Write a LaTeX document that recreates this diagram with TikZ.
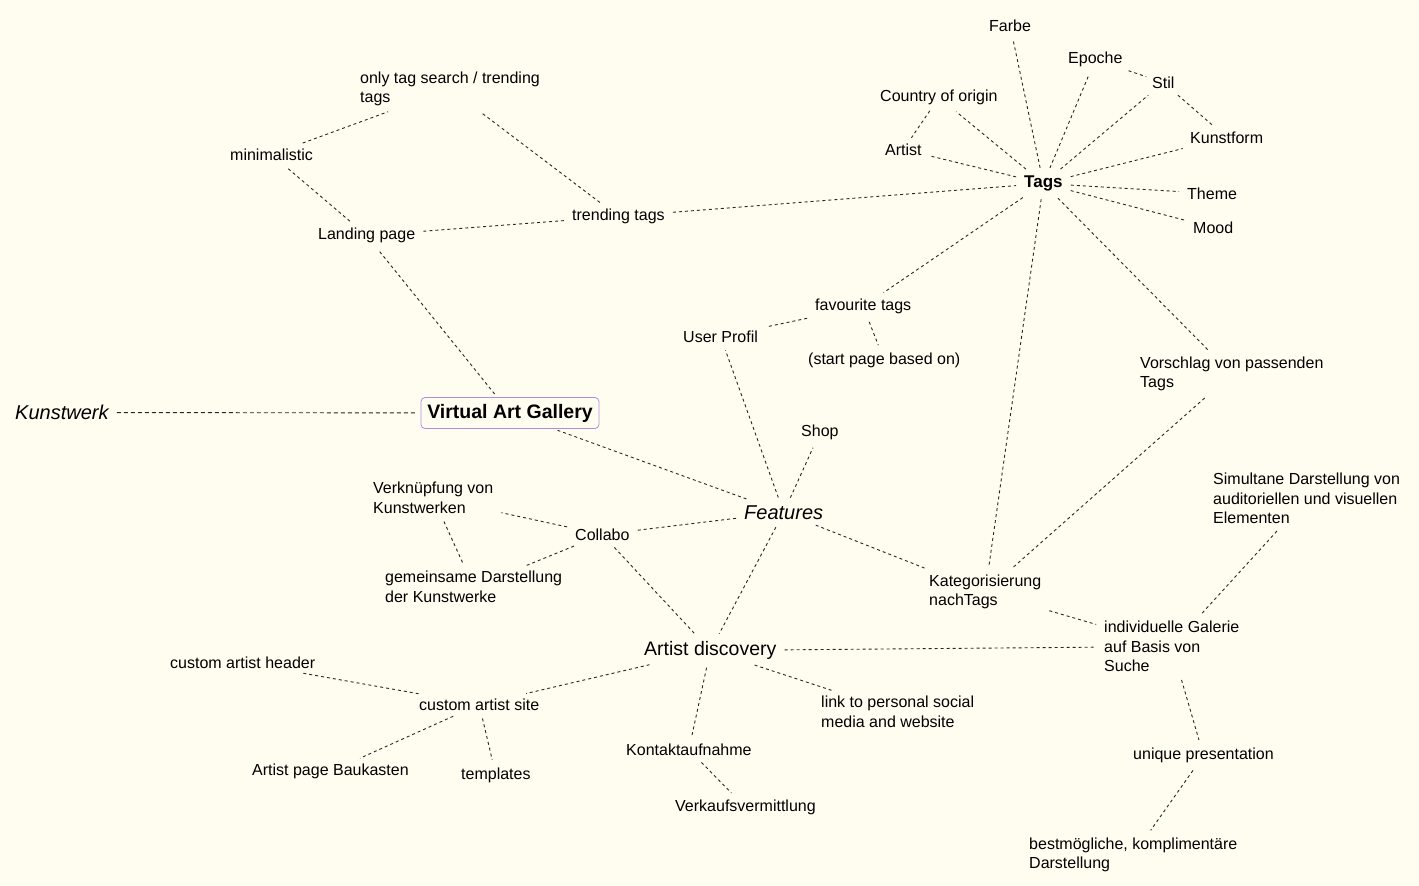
\documentclass[tikz,border=0pt]{standalone}
\usepackage{fontspec}
\setmainfont{Liberation Sans}
\definecolor{paper}{RGB}{255,253,240}
\definecolor{frame}{RGB}{176,140,224}
\begin{document}
\begin{tikzpicture}[x=1pt,y=-1pt,
  item/.style={anchor=west, inner sep=4pt, yshift=-1.5pt, align=left, font=\fontsize{16}{19.5}\selectfont},
  con/.style={draw=black!85, line width=0.9pt, dash pattern=on 3pt off 3pt, shorten <=4pt, shorten >=4pt}]

\fill[paper] (0,0) rectangle (1419,886);

% centre
\node[draw=frame, rounded corners=4pt, line width=0.8pt, minimum width=178pt, minimum height=31pt, inner sep=3pt, yshift=-1pt, font=\fontsize{19.5}{23}\selectfont\bfseries] (vag) at (510,412) {Virtual Art Gallery};
\node[item, font=\fontsize{20}{24}\selectfont\itshape] (kunstwerk) at (11,411) {Kunstwerk};

% landing page
\node[item] (landing) at (314,234) {Landing page};
\node[item] (minimal) at (226,153) {minimalistic};
\node[item] (onlytag) at (356,87.5) {only tag search / trending\\tags};
\node[item] (trending) at (568,215) {trending tags};

% tags
\node[item, font=\fontsize{17}{20}\selectfont\bfseries] (tags) at (1020,182) {Tags};
\node[item] (farbe) at (985,24) {Farbe};
\node[item] (epoche) at (1064,58) {Epoche};
\node[item] (stil) at (1148,81) {Stil};
\node[item] (country) at (876,96) {Country of origin};
\node[item] (kunstform) at (1186,136) {Kunstform};
\node[item] (artist) at (881,148) {Artist};
\node[item] (theme) at (1183,192) {Theme};
\node[item] (mood) at (1189,226) {Mood};
\node[item] (favtags) at (811,305) {favourite tags};
\node[item] (userprofil) at (679,335) {User Profil};
\node[item] (startpage) at (804,359) {(start page based on)};
\node[item] (vorschlag) at (1136,372.5) {Vorschlag von passenden\\Tags};

% features
\node[item, font=\fontsize{20}{24}\selectfont\itshape] (features) at (740,511) {Features};
\node[item] (shop) at (797,431) {Shop};
\node[item] (collabo) at (571,533) {Collabo};
\node[item] (verkn) at (369,496.5) {Verknüpfung von\\Kunstwerken};
\node[item] (gemeinsam) at (381,585.5) {gemeinsame Darstellung\\der Kunstwerke};
\node[item] (kategor) at (925,590.5) {Kategorisierung\\nachTags};
\node[item] (simultan) at (1209,497) {Simultane Darstellung von\\auditoriellen und visuellen\\Elementen};
\node[item] (individ) at (1100,645) {individuelle Galerie\\auf Basis von\\Suche};
\node[item] (unique) at (1129,754) {unique presentation};
\node[item] (bestm) at (1025,853.5) {bestmögliche, komplimentäre\\Darstellung};

% artist discovery
\node[item, font=\fontsize{19.5}{23}\selectfont] (discovery) at (640,649) {Artist discovery};
\node[item] (header) at (166,661) {custom artist header};
\node[item] (casite) at (415,703) {custom artist site};
\node[item] (baukasten) at (248,770) {Artist page Baukasten};
\node[item] (templates) at (457,774) {templates};
\node[item] (link) at (817,710.5) {link to personal social\\media and website};
\node[item] (kontakt) at (622,748) {Kontaktaufnahme};
\node[item] (verkauf) at (671,806) {Verkaufsvermittlung};

% connectors
\draw[con, dash pattern=on 4pt off 3pt] (kunstwerk) -- (vag);
\draw[con] (vag) -- (landing);
\draw[con] (vag) -- (features);
\draw[con] (landing) -- (minimal);
\draw[con] (landing) -- (trending);
\draw[con] (minimal) -- (onlytag);
\draw[con] (trending) -- (onlytag);
\draw[con] (trending) -- (tags);

\draw[con] (tags) -- (farbe);
\draw[con] (tags) -- (epoche);
\draw[con, shorten <=2pt, shorten >=2pt] (epoche) -- (stil);
\draw[con] (tags) -- (stil);
\draw[con] (stil) -- (kunstform);
\draw[con] (tags) -- (kunstform);
\draw[con] (tags) -- (country);
\draw[con, shorten <=2pt, shorten >=2pt] (country) -- (artist);
\draw[con] (tags) -- (artist);
\draw[con] (tags) -- (theme);
\draw[con] (tags) -- (mood);
\draw[con] (tags) -- (favtags);
\draw[con] (tags) -- (kategor);
\draw[con] (tags) -- (vorschlag);
\draw[con] (vorschlag) -- (kategor);
\draw[con] (favtags) -- (userprofil);
\draw[con] (favtags) -- (startpage);

\draw[con] (features) -- (userprofil);
\draw[con] (features) -- (shop);
\draw[con] (features) -- (collabo);
\draw[con] (features) -- (discovery);
\draw[con] (features) -- (kategor);
\draw[con] (collabo) -- (verkn);
\draw[con] (collabo) -- (gemeinsam);
\draw[con] (verkn) -- (gemeinsam);
\draw[con] (collabo) -- (discovery);
\draw[con] (kategor) -- (individ);
\draw[con] (simultan) -- (individ);
\draw[con] (individ) -- (unique);
\draw[con] (unique) -- (bestm);

\draw[con] (discovery) -- (individ);
\draw[con] (discovery) -- (casite);
\draw[con] (discovery) -- (kontakt);
\draw[con] (discovery) -- (link);
\draw[con] (kontakt) -- (verkauf);
\draw[con] (casite) -- (header);
\draw[con] (casite) -- (baukasten);
\draw[con] (casite) -- (templates);

\end{tikzpicture}
\end{document}
